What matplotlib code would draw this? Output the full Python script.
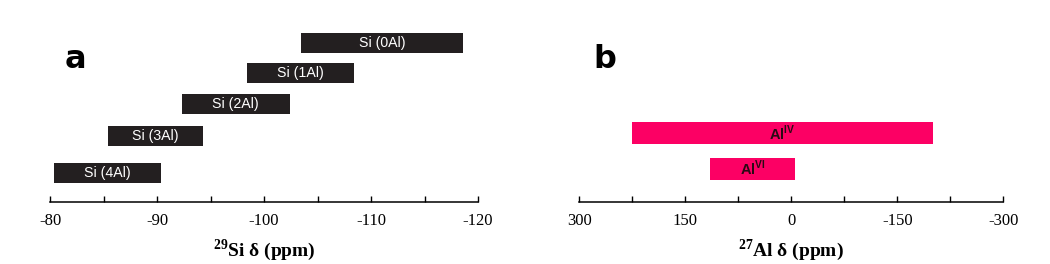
import matplotlib.pyplot as plt
from matplotlib.ticker import MultipleLocator

# panel a: 29Si chemical shift ranges (ppm)
si_labels = ['Si (0Al)', 'Si (1Al)', 'Si (2Al)', 'Si (3Al)', 'Si (4Al)']
si_start = [-103.5, -98.4, -92.3, -85.4, -80.4]
si_end = [-118.6, -108.4, -102.4, -94.3, -90.4]
si_rows = [159, 128.7, 98.3, 66, 29.3]

# panel b: 27Al chemical shift ranges (ppm)
al_labels = [r'Al$^{\mathsf{IV}}$', r'Al$^{\mathsf{VI}}$']
al_start = [225, 115]
al_end = [-200, -5]
al_rows = [68.7, 33.2]

plt.rcParams['font.family'] = 'Liberation Serif'
plt.rcParams['axes.unicode_minus'] = False
plt.rcParams['mathtext.fontset'] = 'custom'
plt.rcParams['mathtext.sf'] = 'Liberation Sans:bold'
plt.rcParams['mathtext.bf'] = 'Liberation Serif:bold'
plt.rcParams['mathtext.rm'] = 'Liberation Serif'

fig = plt.figure(figsize=(10.5, 2.64), dpi=100)
ax1 = fig.add_axes([50/1050, 1-202/264, 428/1050, 182/264])
ax2 = fig.add_axes([579.3/1050, 1-202/264, 424/1050, 182/264])

def style(ax, lo, hi, major, minor):
    for s in ['top', 'left', 'right']:
        ax.spines[s].set_visible(False)
    ax.spines['bottom'].set_linewidth(1.1)
    ax.set_xlim(lo, hi)
    ax.set_ylim(0, 182)
    ax.set_yticks([])
    ax.xaxis.set_major_locator(MultipleLocator(major))
    ax.xaxis.set_minor_locator(MultipleLocator(minor))
    ax.tick_params(axis='x', which='both', direction='in', length=4.5, width=1.0,
                   pad=8, labelsize=12)
    ax.patch.set_alpha(0)

# panel a
for lab, a, b, y in zip(si_labels, si_start, si_end, si_rows):
    ax1.barh(y, b - a, left=a, height=20, color='#231f20')
    ax1.text((a + b) / 2, y, lab, color='white', ha='center', va='center',
             fontsize=10.2, family='Liberation Sans')
style(ax1, -80, -120, 10, 5)
ax1.set_xlabel(r'$^{\mathbf{29}}$Si δ (ppm)', fontsize=14, fontweight='bold', labelpad=6)
ax1.text((75-50)/428, 1-(60-20)/182, 'a', transform=ax1.transAxes, fontsize=23,
         fontweight='heavy', family='DejaVu Sans', ha='center', va='center')

# panel b
for lab, a, b, y in zip(al_labels, al_start, al_end, al_rows):
    ax2.barh(y, b - a, left=a, height=22, color='#fc0064')
    ax2.text((a + b) / 2, y, lab, color='#2a0a14', ha='center', va='center',
             fontsize=10.5, fontweight='bold', family='Liberation Sans')
style(ax2, 300, -300, 150, 75)
ax2.set_xlabel(r'$^{\mathbf{27}}$Al δ (ppm)', fontsize=14, fontweight='bold', labelpad=6)
ax2.text((605-579.3)/424, 1-(60-20)/182, 'b', transform=ax2.transAxes, fontsize=23,
         fontweight='heavy', family='DejaVu Sans', ha='center', va='center')

fig.savefig('out.png', dpi=100)
